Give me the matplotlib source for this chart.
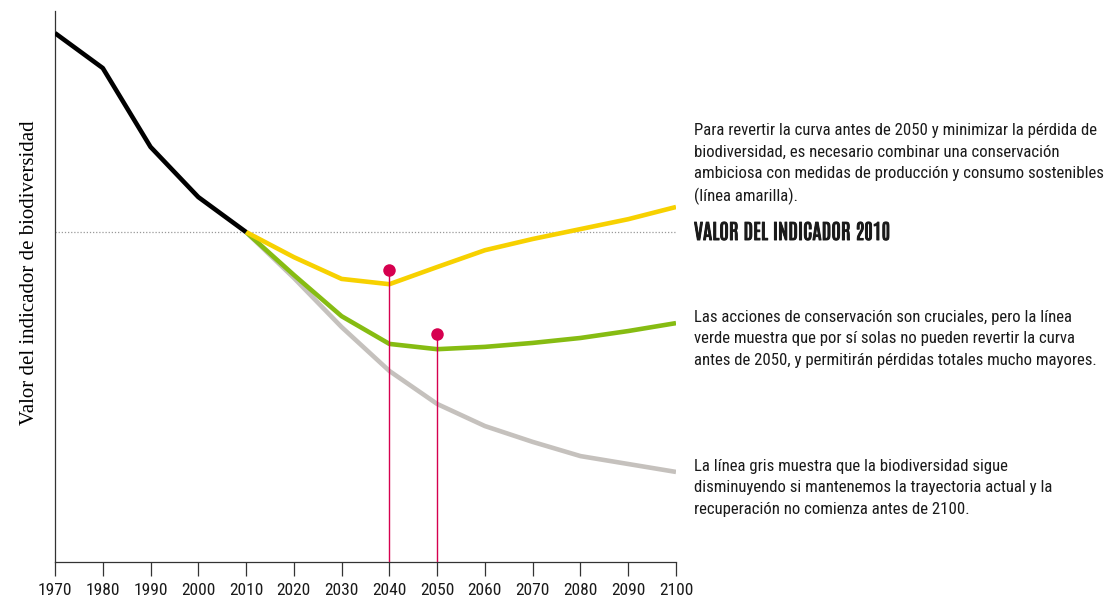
import numpy as np
import matplotlib.pyplot as plt
import matplotlib.patheffects as pe

# indicator, 2010 value = 1.0
years_hist = [1970, 1980, 1990, 2000, 2010]
hist = [1.603, 1.497, 1.258, 1.106, 1.0]

years_proj = [2010, 2020, 2030, 2040, 2050, 2060, 2070, 2080, 2090, 2100]
yellow = [1.0, 0.924, 0.858, 0.842, 0.894, 0.945, 0.979, 1.009, 1.039, 1.076]
green = [1.0, 0.870, 0.745, 0.661, 0.645, 0.652, 0.664, 0.679, 0.700, 0.724]
gray = [1.0, 0.861, 0.712, 0.579, 0.479, 0.412, 0.364, 0.321, 0.297, 0.273]

pin_years = [2040, 2050]
pin_vals = [0.885, 0.691]

ref_2010 = 1.0
xticks = list(range(1970, 2101, 10))

narrow = ['Roboto Condensed', 'DejaVu Sans']
heavy = ['Antonio', 'Roboto Condensed']

fig = plt.figure(figsize=(11.12, 5.97), dpi=100)
ax = fig.add_axes([55/1112, 35/597, 621/1112, 551/597])

ax.axhline(ref_2010, color='#999999', lw=0.9, ls=(0, (1, 1.5)), zorder=1)
ax.plot(years_proj, gray, color='#c5c1bd', lw=3.3, solid_capstyle='butt', zorder=2)
ax.plot(years_proj, green, color='#86bc12', lw=3.3, solid_capstyle='butt', zorder=3)
ax.plot(years_proj, yellow, color='#f7d100', lw=3.3, solid_capstyle='butt', zorder=4)
ax.plot(years_hist, hist, color='black', lw=3.3, solid_capstyle='butt', zorder=5)

for yr, v in zip(pin_years, pin_vals):
    ax.plot([yr, yr], [0, v], color='#d6004f', lw=1.0, zorder=6)
    ax.plot(yr, v, 'o', color='#d6004f', ms=9, mec='none', zorder=7)

ax.set_xlim(1970, 2100)
ax.set_ylim(0, 1.67)
ax.set_xticks(xticks)
ax.set_xticklabels([str(x) for x in xticks], family=narrow, fontsize=12.5, color='#1a1a1a')
ax.set_yticks([])
ax.tick_params(axis='x', length=10, width=0.9, color='#333333', pad=5)
for s in ['top', 'right']:
    ax.spines[s].set_visible(False)
for s in ['left', 'bottom']:
    ax.spines[s].set_linewidth(0.9)
    ax.spines[s].set_color('#333333')

fig.text(30/1112, 1 - 273/597, 'Valor del indicador de biodiversidad', rotation=90,
         ha='center', va='center', family='Liberation Serif', fontsize=15)

tx = 694/1112
body = dict(ha='left', va='top', family=narrow, fontsize=12.1, linespacing=1.53, color='#1a1a1a')
fig.text(tx, 1 - 123/597,
         'Para revertir la curva antes de 2050 y minimizar la pérdida de\n'
         'biodiversidad, es necesario combinar una conservación\n'
         'ambiciosa con medidas de producción y consumo sostenibles\n'
         '(línea amarilla).', **body)
fig.text(tx, 1 - 240/597, 'VALOR DEL INDICADOR 2010', ha='left', va='baseline',
         family=heavy, fontsize=15, color='#1a1a1a',
         path_effects=[pe.withStroke(linewidth=0.7, foreground='#1a1a1a')])
fig.text(tx, 1 - 310/597,
         'Las acciones de conservación son cruciales, pero la línea\n'
         'verde muestra que por sí solas no pueden revertir la curva\n'
         'antes de 2050, y permitirán pérdidas totales mucho mayores.', **body)
fig.text(tx, 1 - 459/597,
         'La línea gris muestra que la biodiversidad sigue\n'
         'disminuyendo si mantenemos la trayectoria actual y la\n'
         'recuperación no comienza antes de 2100.', **body)

fig.savefig('out.png', dpi=100)
